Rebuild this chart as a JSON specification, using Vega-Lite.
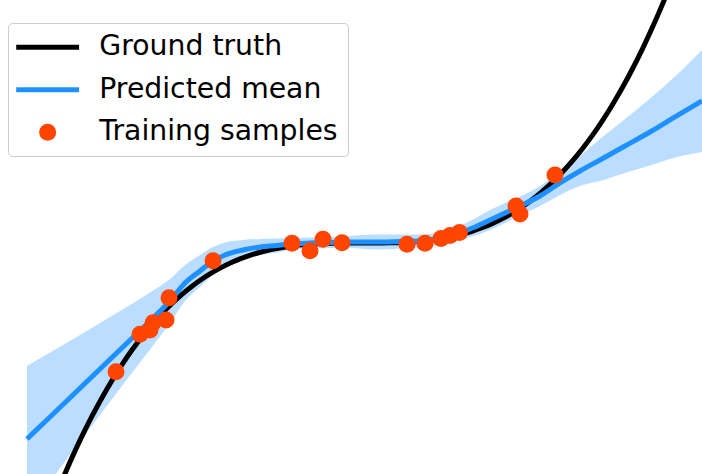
{
  "$schema": "https://vega.github.io/schema/vega-lite/v6.json",
  "autosize": {"type": "fit", "contains": "padding"},
  "width": 702,
  "height": 474,
  "padding": 0,
  "background": "white",
  "config": {"view": {"stroke": null}},
  "datasets": {
    "truth": [
      {"x": -3.0, "y": -27.0}, {"x": -2.9, "y": -24.389}, {"x": -2.8, "y": -21.952}, {"x": -2.7, "y": -19.683},
      {"x": -2.6, "y": -17.576}, {"x": -2.5, "y": -15.625}, {"x": -2.4, "y": -13.824}, {"x": -2.3, "y": -12.167},
      {"x": -2.2, "y": -10.648}, {"x": -2.1, "y": -9.261}, {"x": -2.0, "y": -8.0}, {"x": -1.9, "y": -6.859},
      {"x": -1.8, "y": -5.832}, {"x": -1.7, "y": -4.913}, {"x": -1.6, "y": -4.096}, {"x": -1.5, "y": -3.375},
      {"x": -1.4, "y": -2.744}, {"x": -1.3, "y": -2.197}, {"x": -1.2, "y": -1.728}, {"x": -1.1, "y": -1.331},
      {"x": -1.0, "y": -1.0}, {"x": -0.9, "y": -0.729}, {"x": -0.8, "y": -0.512}, {"x": -0.7, "y": -0.343},
      {"x": -0.6, "y": -0.216}, {"x": -0.5, "y": -0.125}, {"x": -0.4, "y": -0.064}, {"x": -0.3, "y": -0.027},
      {"x": -0.2, "y": -0.008}, {"x": -0.1, "y": -0.001}, {"x": 0.0, "y": 0.0}, {"x": 0.1, "y": 0.001},
      {"x": 0.2, "y": 0.008}, {"x": 0.3, "y": 0.027}, {"x": 0.4, "y": 0.064}, {"x": 0.5, "y": 0.125},
      {"x": 0.6, "y": 0.216}, {"x": 0.7, "y": 0.343}, {"x": 0.8, "y": 0.512}, {"x": 0.9, "y": 0.729},
      {"x": 1.0, "y": 1.0}, {"x": 1.1, "y": 1.331}, {"x": 1.2, "y": 1.728}, {"x": 1.3, "y": 2.197},
      {"x": 1.4, "y": 2.744}, {"x": 1.5, "y": 3.375}, {"x": 1.6, "y": 4.096}, {"x": 1.7, "y": 4.913},
      {"x": 1.8, "y": 5.832}, {"x": 1.9, "y": 6.859}, {"x": 2.0, "y": 8.0}, {"x": 2.1, "y": 9.261},
      {"x": 2.2, "y": 10.648}, {"x": 2.3, "y": 12.167}, {"x": 2.4, "y": 13.824}, {"x": 2.5, "y": 15.625},
      {"x": 2.6, "y": 17.576}, {"x": 2.7, "y": 19.683}, {"x": 2.8, "y": 21.952}, {"x": 2.9, "y": 24.389},
      {"x": 3.0, "y": 27.0}, {"x": 3.1, "y": 29.791}
    ],
    "pred": [
      {"x": -3.35, "mean": -22.27, "lower": -30.57, "upper": -13.97},
      {"x": -3.12, "mean": -19.77, "lower": -27.10, "upper": -12.44},
      {"x": -2.87, "mean": -17.05, "lower": -23.30, "upper": -10.80},
      {"x": -2.62, "mean": -14.32, "lower": -19.55, "upper": -9.09},
      {"x": -2.37, "mean": -11.59, "lower": -15.79, "upper": -7.39},
      {"x": -2.12, "mean": -8.86, "lower": -12.10, "upper": -5.62},
      {"x": -1.92, "mean": -6.59, "lower": -9.09, "upper": -4.09},
      {"x": -1.77, "mean": -4.55, "lower": -6.60, "upper": -2.50},
      {"x": -1.62, "mean": -3.18, "lower": -5.00, "upper": -1.36},
      {"x": -1.49, "mean": -2.05, "lower": -3.64, "upper": -0.46},
      {"x": -1.37, "mean": -1.36, "lower": -2.78, "upper": 0.06},
      {"x": -1.19, "mean": -0.80, "lower": -1.94, "upper": 0.34},
      {"x": -1.02, "mean": -0.45, "lower": -1.36, "upper": 0.46},
      {"x": -0.85, "mean": -0.28, "lower": -1.08, "upper": 0.52},
      {"x": -0.72, "mean": -0.11, "lower": -0.79, "upper": 0.57},
      {"x": -0.52, "mean": 0.0, "lower": -0.63, "upper": 0.63},
      {"x": -0.32, "mean": 0.06, "lower": -0.57, "upper": 0.69},
      {"x": -0.12, "mean": 0.11, "lower": -0.57, "upper": 0.79},
      {"x": 0.13, "mean": 0.11, "lower": -0.74, "upper": 0.96},
      {"x": 0.38, "mean": 0.17, "lower": -0.63, "upper": 0.97},
      {"x": 0.58, "mean": 0.23, "lower": -0.51, "upper": 0.97},
      {"x": 0.79, "mean": 0.51, "lower": -0.17, "upper": 1.19},
      {"x": 0.97, "mean": 1.14, "lower": 0.34, "upper": 1.94},
      {"x": 1.13, "mean": 1.82, "lower": 0.85, "upper": 2.79},
      {"x": 1.28, "mean": 2.61, "lower": 1.47, "upper": 3.75},
      {"x": 1.43, "mean": 3.41, "lower": 2.27, "upper": 4.55},
      {"x": 1.56, "mean": 4.09, "lower": 3.01, "upper": 5.17},
      {"x": 1.78, "mean": 5.34, "lower": 4.20, "upper": 6.48},
      {"x": 1.98, "mean": 6.82, "lower": 5.46, "upper": 8.18},
      {"x": 2.18, "mean": 8.18, "lower": 6.48, "upper": 9.88},
      {"x": 2.38, "mean": 9.43, "lower": 7.04, "upper": 11.82},
      {"x": 2.63, "mean": 11.02, "lower": 7.95, "upper": 14.09},
      {"x": 2.88, "mean": 12.61, "lower": 8.80, "upper": 16.42},
      {"x": 3.13, "mean": 14.32, "lower": 9.72, "upper": 18.92},
      {"x": 3.40, "mean": 16.14, "lower": 10.34, "upper": 21.94}
    ],
    "samples": [
      {"x": -2.46, "y": -14.63}, {"x": -2.22, "y": -10.38}, {"x": -2.12, "y": -9.89},
      {"x": -2.09, "y": -9.06}, {"x": -1.96, "y": -8.75}, {"x": -1.93, "y": -6.22},
      {"x": -1.49, "y": -2.01}, {"x": -0.70, "y": -0.03}, {"x": -0.52, "y": -0.88},
      {"x": -0.39, "y": 0.42}, {"x": -0.20, "y": 0.03}, {"x": 0.45, "y": -0.15},
      {"x": 0.63, "y": -0.03}, {"x": 0.79, "y": 0.51}, {"x": 0.88, "y": 0.85},
      {"x": 0.975, "y": 1.19}, {"x": 1.54, "y": 4.20}, {"x": 1.58, "y": 3.30},
      {"x": 1.93, "y": 7.73}
    ]
  },
  "layer": [
    {
      "data": {"name": "pred"},
      "mark": {"type": "area", "color": "#1E90FF", "opacity": 0.3, "interpolate": "monotone", "clip": true},
      "encoding": {
        "x": {"field": "x", "type": "quantitative", "scale": {"domain": [-3.62, 3.40], "nice": false, "zero": false}, "axis": null},
        "y": {"field": "lower", "type": "quantitative", "scale": {"domain": [-26.25, 27.61], "nice": false, "zero": false}, "axis": null},
        "y2": {"field": "upper"}
      }
    },
    {
      "data": {"name": "truth"},
      "mark": {"type": "line", "strokeWidth": 5, "interpolate": "monotone", "clip": true},
      "encoding": {
        "x": {"field": "x", "type": "quantitative"},
        "y": {"field": "y", "type": "quantitative"},
        "color": {
          "datum": "Ground truth",
          "type": "nominal",
          "scale": {"domain": ["Ground truth", "Predicted mean", "Training samples"], "range": ["#000000", "#1E90FF", "#FF4500"]},
          "legend": {
            "title": null,
            "orient": "none",
            "legendX": 8,
            "legendY": 23,
            "padding": 10,
            "labelFont": "DejaVu Sans",
            "labelFontSize": 28.3,
            "labelColor": "#000000",
            "labelLimit": 400,
            "labelOffset": 37.5,
            "symbolOffset": 15.5,
            "symbolSize": 289,
            "symbolStrokeWidth": 5,
            "rowPadding": 13.5,
            "strokeColor": "#cccccc",
            "fillColor": "rgba(255,255,255,0.8)",
            "cornerRadius": 4,
            "encode": {
              "symbols": {
                "update": {
                  "shape": {"signal": "datum.value === 'Training samples' ? 'circle' : 'M-3.7,0H3.7'"},
                  "fill": {"signal": "datum.value === 'Training samples' ? '#FF4500' : 'transparent'"},
                  "stroke": {"signal": "datum.value === 'Ground truth' ? '#000000' : (datum.value === 'Predicted mean' ? '#1E90FF' : 'transparent')"},
                  "strokeWidth": {"signal": "datum.value === 'Training samples' ? 0 : 5"},
                  "size": {"value": 289},
                  "opacity": {"value": 1}
                }
              }
            }
          }
        }
      }
    },
    {
      "data": {"name": "pred"},
      "mark": {"type": "line", "strokeWidth": 5, "interpolate": "monotone", "clip": true},
      "encoding": {
        "x": {"field": "x", "type": "quantitative"},
        "y": {"field": "mean", "type": "quantitative"},
        "color": {"datum": "Predicted mean", "type": "nominal"}
      }
    },
    {
      "data": {"name": "samples"},
      "mark": {"type": "circle", "size": 289, "opacity": 1, "clip": true},
      "encoding": {
        "x": {"field": "x", "type": "quantitative"},
        "y": {"field": "y", "type": "quantitative"},
        "color": {"datum": "Training samples", "type": "nominal"}
      }
    }
  ]
}
